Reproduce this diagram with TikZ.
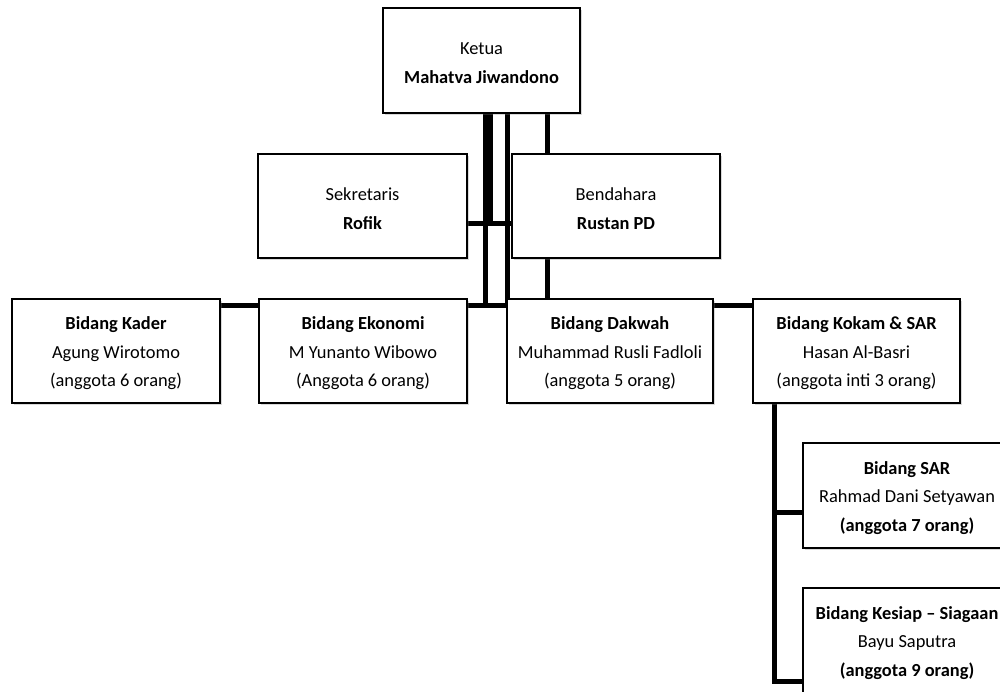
\documentclass[tikz,border=0pt]{standalone}
\usepackage{fontspec}
\setmainfont{Carlito}
\usetikzlibrary{shadows,backgrounds}
\begin{document}
\begin{tikzpicture}[x=1pt,y=-1pt,
  box/.style={draw=black, line width=1.5pt, fill=white, inner sep=0pt, outer sep=0pt,
    drop shadow={shadow xshift=1.5pt, shadow yshift=-1.5pt, opacity=0.3}},
  txt/.style={align=center, inner sep=0pt, yshift=-2.5pt,
    font=\fontsize{18.4}{28.5}\selectfont},
  wh/.style 2 args={minimum width=#1pt, minimum height=#2pt},
  conn/.style={line width=5pt, draw=black}]
\useasboundingbox (0,0) rectangle (1000,691);
\clip (0,0) rectangle (1000,691);

\node[box, wh={197}{105}] (ketua) at (481.5,60.5) {};
\node[box, wh={209}{104}] (sek) at (362.5,206) {};
\node[box, wh={208}{104}] (bend) at (616,206) {};
\node[box, wh={208}{104}] (kader) at (116,351) {};
\node[box, wh={208}{104}] (eko) at (363,351) {};
\node[box, wh={206}{104}] (dak) at (610,351) {};
\node[box, wh={207}{104}] (kokam) at (856.5,351) {};
\node[box, wh={208}{105}] (sar) at (907,495.5) {};
\node[box, wh={208}{105}] (kesiap) at (907,640.5) {};

\node[txt] (ketuat) at (ketua.center) {Ketua\\\textbf{Mahatva Jiwandono}};
\node[txt] (sekt) at (sek.center) {Sekretaris\\\textbf{Rofik}};
\node[txt] (bendt) at (bend.center) {Bendahara\\\textbf{Rustan PD}};
\node[txt] (kadert) at (kader.center) {\textbf{Bidang Kader}\\Agung Wirotomo\\(anggota 6 orang)};
\node[txt] (ekot) at (eko.center) {\textbf{Bidang Ekonomi}\\M Yunanto Wibowo\\(Anggota 6 orang)};
\node[txt] (dakt) at (dak.center) {\textbf{Bidang Dakwah}\\Muhammad Rusli Fadloli\\(anggota 5 orang)};
\node[txt] (kokamt) at (kokam.center) {\textbf{Bidang Kokam \& SAR}\\Hasan Al-Basri\\(anggota inti 3 orang)};
\node[txt] (sart) at (sar.center) {\textbf{Bidang SAR}\\Rahmad Dani Setyawan\\\textbf{(anggota 7 orang)}};
\node[txt] (kesiapt) at (kesiap.center) {\textbf{Bidang Kesiap – Siagaan}\\Bayu Saputra\\\textbf{(anggota 9 orang)}};

\begin{scope}[on background layer]
  \draw[conn] ([xshift=3.5pt]ketua.south) |- ([yshift=-6.5pt]eko.north east);
  \draw[conn] ([xshift=25.5pt]ketua.south) |- ([yshift=-6.5pt]eko.north east);
  \draw[conn] ([xshift=9pt]ketua.south) |- ([yshift=-17pt]sek.east);
  \draw[conn] ([yshift=-17pt]sek.east) -- ([yshift=-17pt]bend.west);
  \draw[conn] ([xshift=65.5pt]ketua.south) -- ([xshift=65.5pt]ketua.south |- dak.north);
  \draw[conn] ([yshift=-6.5pt]kader.north east) -- ([yshift=-6.5pt]eko.north west);
  \draw[conn] ([yshift=-6.5pt]dak.north east) -- ([yshift=-6.5pt]kokam.north west);
  \draw[conn] ([xshift=21.5pt]kokam.south west) |- ([yshift=-16.5pt]sar.west);
  \draw[conn] ([xshift=21.5pt]kokam.south west) |- ([yshift=-40.5pt]kesiap.west);
\end{scope}
\end{tikzpicture}
\end{document}
